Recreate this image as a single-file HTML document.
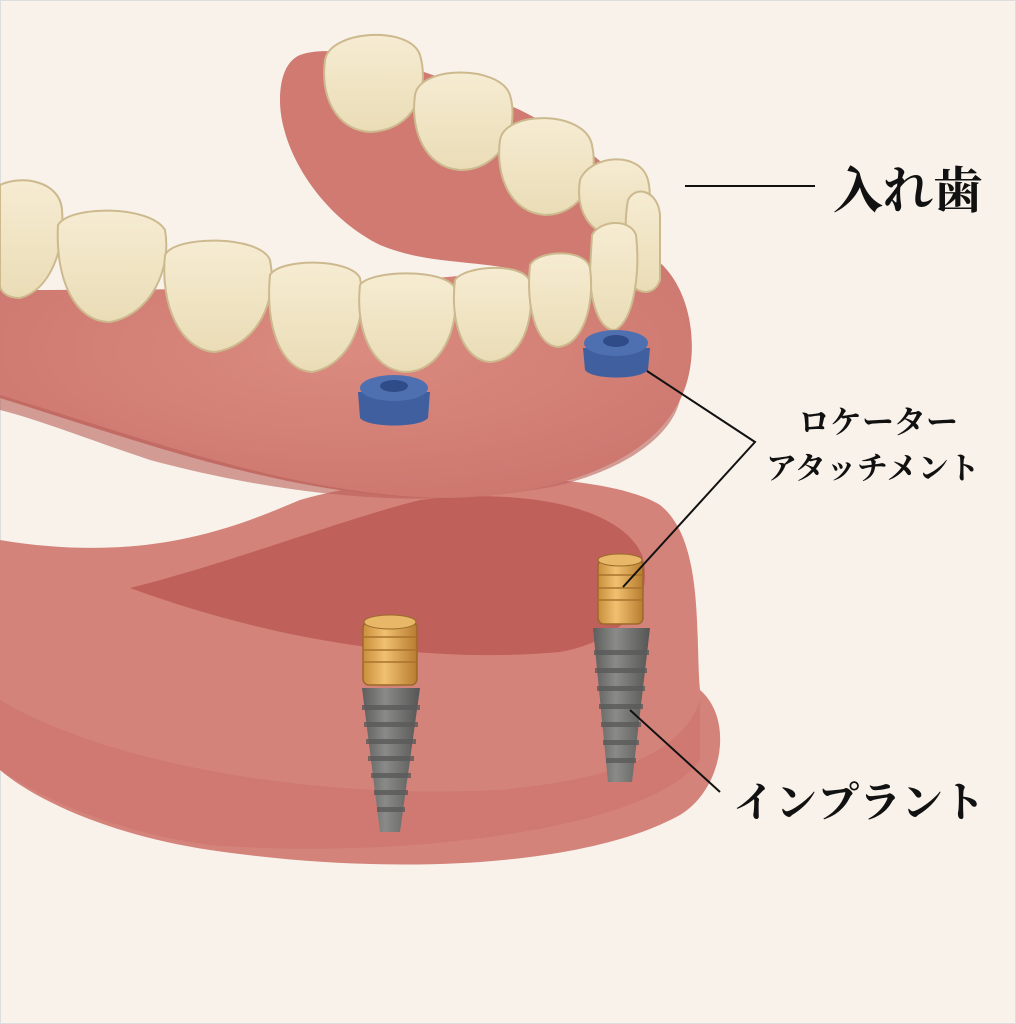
<!DOCTYPE html>
<html><head><meta charset="utf-8"><style>
html,body{margin:0;padding:0;background:#f8f2ea;}
svg{display:block}
text{font-family:"Liberation Serif","Noto Serif CJK SC","Noto Sans CJK JP",serif;fill:#111;font-weight:bold}
</style></head><body>
<svg width="1016" height="1024" viewBox="0 0 1016 1024" xmlns="http://www.w3.org/2000/svg">
<defs>
<radialGradient id="gum" cx="50%" cy="40%" r="70%"><stop offset="0" stop-color="#db8b80"/><stop offset="1" stop-color="#cb756d"/></radialGradient>
<linearGradient id="gold" x1="0" x2="1"><stop offset="0" stop-color="#c98e3c"/><stop offset=".4" stop-color="#f0c070"/><stop offset="1" stop-color="#b87c30"/></linearGradient>
<linearGradient id="grey" x1="0" x2="1"><stop offset="0" stop-color="#5d5d5d"/><stop offset=".4" stop-color="#8a8a88"/><stop offset="1" stop-color="#555"/></linearGradient>
<linearGradient id="tooth" x1="0" y1="0" x2="0" y2="1"><stop offset="0" stop-color="#f6ecd2"/><stop offset="1" stop-color="#eadcb6"/></linearGradient>
</defs>
<rect width="1016" height="1024" fill="#f8f2ea"/>
<rect x="0.5" y="0.5" width="1015" height="1023" fill="none" stroke="#ddd" stroke-width="1"/>

<path d="M0,540 C150,565 240,525 300,500 C400,470 600,468 660,505 C705,540 695,640 700,690 C735,720 722,790 680,815 C590,865 400,878 210,850 C110,835 35,800 0,770 Z" fill="#d4837a"/>
<path d="M130,588 C240,560 340,520 420,500 C520,488 620,505 642,555 C655,600 625,640 560,652 C450,662 300,650 130,588 Z" fill="#bf605b"/>
<path d="M0,700 C100,760 300,800 500,790 C600,780 680,760 700,700 L700,760 C650,830 400,860 210,845 C100,830 30,790 0,770Z" fill="#c96f69" opacity=".5"/>

<path d="M300,55 C340,40 430,70 520,110 C600,150 655,200 655,260 L560,285 C500,255 440,270 380,245 C320,215 280,150 280,100 C280,75 288,60 300,55 Z" fill="#d07a72"/>
<path d="M0,290 C200,290 450,290 640,250 C690,270 705,350 680,400 C650,462 560,495 450,498 C300,500 150,445 0,398 Z" fill="url(#gum)"/>
<path d="M0,395 C150,440 300,497 450,498 C560,495 650,462 680,400 C670,440 620,470 560,485 C440,510 300,500 150,460 C90,440 40,420 0,410Z" fill="#b9605a" opacity=".6"/>

<g fill="url(#tooth)" stroke="#cdb98e" stroke-width="2">
<path d="M325,60 C330,30 410,25 420,55 C430,90 415,130 370,132 C335,130 320,95 325,60Z"/>
<path d="M415,95 C420,65 500,65 510,95 C520,130 500,170 460,170 C425,168 410,130 415,95Z"/>
<path d="M500,140 C505,110 585,110 592,145 C600,180 580,215 545,215 C510,213 495,175 500,140Z"/>
<path d="M580,180 C590,155 640,150 648,180 C655,210 640,235 615,235 C590,235 575,210 580,180Z"/>
<path d="M628,200 C635,185 658,190 660,215 L660,280 C655,295 640,295 632,285 C625,260 624,220 628,200Z"/>
<path d="M592,235 C600,220 630,218 636,235 C640,270 635,320 615,330 C598,330 590,300 590,270Z"/>
<path d="M0,185 C20,175 60,180 62,210 C65,250 50,290 20,298 C5,298 0,290 0,285Z"/>
<path d="M58,225 C70,205 150,205 165,230 C172,270 150,315 110,322 C75,322 55,280 58,225Z"/>
<path d="M165,255 C175,235 260,235 270,260 C278,300 258,345 215,352 C180,350 160,305 165,255Z"/>
<path d="M270,275 C280,258 350,258 360,278 C368,320 350,365 312,372 C280,370 265,325 270,275Z"/>
<path d="M360,285 C370,270 445,268 455,288 C460,330 440,372 405,372 C372,370 355,330 360,285Z"/>
<path d="M455,280 C465,265 525,262 530,282 C535,325 520,360 490,362 C462,360 450,320 455,280Z"/>
<path d="M530,265 C538,250 585,248 590,268 C595,305 583,345 558,347 C535,345 526,305 530,265Z"/>
</g>

<g>
<path d="M358,392 L430,392 L428,418 C420,428 368,428 360,418Z" fill="#3f5f9e"/>
<ellipse cx="394" cy="388" rx="34" ry="13" fill="#4e70b0"/>
<ellipse cx="394" cy="386" rx="14" ry="6" fill="#2f4c88"/>
<path d="M583,348 L650,348 L648,370 C640,380 592,380 585,370Z" fill="#3f5f9e"/>
<ellipse cx="616" cy="343" rx="32" ry="13" fill="#4e70b0"/>
<ellipse cx="616" cy="341" rx="13" ry="6" fill="#2f4c88"/>
</g>

<g>
<path d="M362,688 L420,688 L400,832 L380,832Z" fill="url(#grey)"/>
<g fill="#5a5a5a" opacity=".8">
<rect x="362" y="705" width="58" height="5"/><rect x="364" y="722" width="54" height="5"/><rect x="366" y="739" width="50" height="5"/><rect x="368" y="756" width="46" height="5"/><rect x="371" y="773" width="40" height="5"/><rect x="374" y="790" width="34" height="5"/><rect x="377" y="807" width="28" height="5"/>
</g>
<rect x="363" y="622" width="54" height="63" rx="6" fill="url(#gold)" stroke="#9a6a28" stroke-width="1.5"/>
<ellipse cx="390" cy="622" rx="26" ry="7" fill="#e8b868" stroke="#9a6a28"/>
<g stroke="#a8722c" stroke-width="1.5"><line x1="364" y1="637" x2="416" y2="637"/><line x1="364" y1="650" x2="416" y2="650"/><line x1="364" y1="662" x2="416" y2="662"/></g>
</g>
<g>
<path d="M593,628 L650,628 L632,782 L608,782Z" fill="url(#grey)"/>
<g fill="#5a5a5a" opacity=".8">
<rect x="594" y="650" width="55" height="5"/><rect x="595" y="668" width="52" height="5"/><rect x="597" y="686" width="48" height="5"/><rect x="599" y="704" width="44" height="5"/><rect x="601" y="722" width="40" height="5"/><rect x="603" y="740" width="36" height="5"/><rect x="606" y="758" width="30" height="5"/>
</g>
<rect x="598" y="560" width="45" height="64" rx="6" fill="url(#gold)" stroke="#9a6a28" stroke-width="1.5"/>
<ellipse cx="620" cy="560" rx="22" ry="6" fill="#e8b868" stroke="#9a6a28"/>
<g stroke="#a8722c" stroke-width="1.5"><line x1="599" y1="575" x2="642" y2="575"/><line x1="599" y1="588" x2="642" y2="588"/><line x1="599" y1="600" x2="642" y2="600"/></g>
</g>

<g stroke="#111" stroke-width="2" fill="none">
<line x1="685" y1="186" x2="815" y2="186"/>
<polyline points="647,371 755,442 623,587"/>
<line x1="630" y1="710" x2="720" y2="792"/>
</g>
<text x="833" y="208" font-size="50">入れ歯</text>
<text x="798" y="433" font-size="32">ロケーター</text>
<text x="766" y="479" font-size="31">アタッチメント</text>
<text x="733" y="817" font-size="42">インプラント</text>
</svg>
</body></html>
